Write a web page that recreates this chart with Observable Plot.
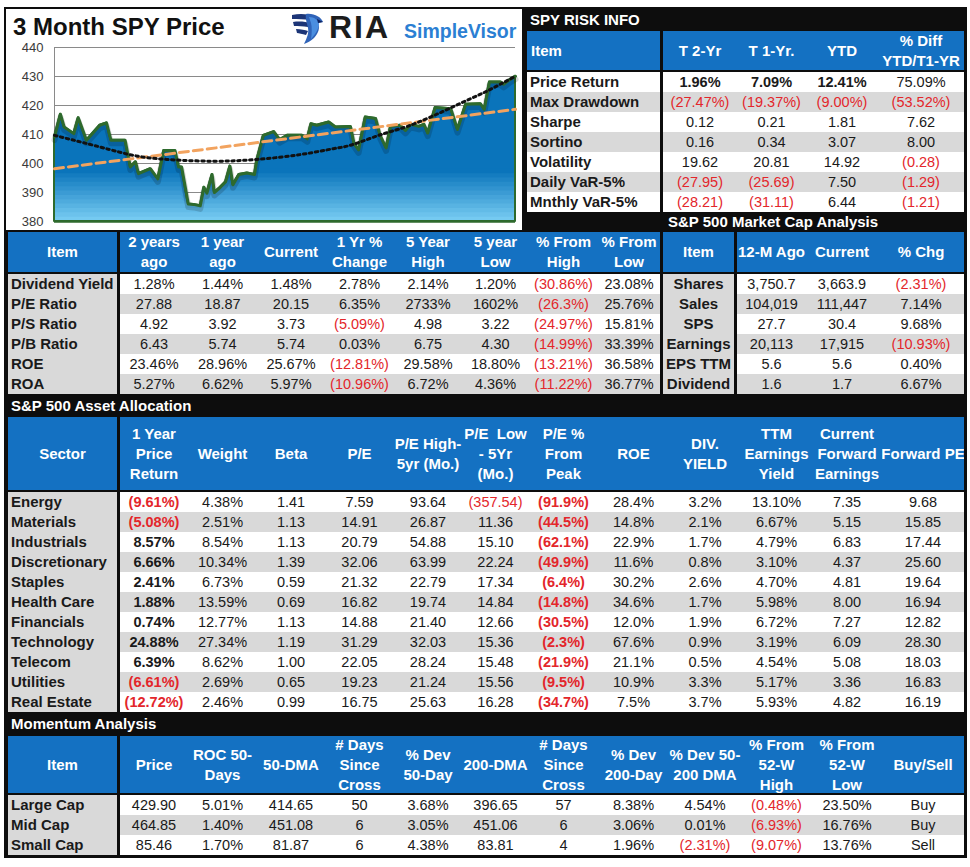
<!DOCTYPE html>
<html><head><meta charset="utf-8">
<script src="https://cdn.jsdelivr.net/npm/d3@7"></script>
<script src="https://cdn.jsdelivr.net/npm/@observablehq/plot@0.6"></script>
<style>
body{margin:0;background:#fff;font-family:"Liberation Sans",Arial,sans-serif;}
#root{position:relative;width:970px;height:867px;overflow:hidden;}
.c{position:absolute;display:flex;align-items:center;box-sizing:border-box;font-size:14.5px;color:#1a1a1a;white-space:pre;line-height:20px;text-align:center;overflow:hidden;}
</style></head><body><div id="root"></div>
<script>
// ---------- chart data ----------
const chartTitle = "3 Month SPY Price";
const yTicks = [380, 390, 400, 410, 420, 430, 440];
const chartDays = [0,0.8,1.3,2.6,3.2,4.3,6.1,7.0,7.6,9.5,10.2,10.9,11.3,12.9,13.9,14.7,16.2,16.7,17.1,18.0,18.7,19.6,20.1,20.5,21.2,21.5,22.3,23.0,23.6,24.0,24.8,25.9,26.9,27.2,28.1,29.5,30.3,31.3,33.3,34.0,34.5,35.3,36.9,37.8,39.8,40.3,40.9,41.8,43.2,43.8,44.6,45.2,46.5,47.2,47.9,49.0,49.7,50.2,51.2,53.3,54.2,55.3,57.3,57.8,58.5,60.0,60.4,61.1,62.0];
const chartPrice = [409.1,417.0,412.6,410.3,415.8,408.0,413.2,414.0,408.0,408.0,398.8,400.6,396.5,398.2,394.7,404.5,404.5,398.8,398.8,386.0,385.9,385.4,391.8,389.8,396.2,390.0,391.8,393.6,399.1,392.7,396.2,396.7,396.2,401.0,409.7,411.0,408.2,409.7,409.7,408.5,413.7,413.2,414.3,412.6,412.8,406.8,404.7,416.0,415.5,409.7,405.4,412.8,413.2,411.4,413.5,412.8,413.5,410.5,419.3,418.9,411.7,420.4,420.6,418.6,428.1,428.1,427.3,428.7,430.1];
const trendDays = [0, 62];
const trendPrice = [398.2, 418.7];
const polyDays = [0, 6.1, 10.6, 15.1, 21.4, 27.2, 33.1, 37.5, 40.2, 44.3, 48.8, 55.5, 58.2, 62];
const polyPrice = [409.7, 405.7, 402.8, 401.4, 400.8, 401.4, 403.1, 405.1, 406.6, 410.3, 414.1, 421.8, 425.0, 430.1];
const fillMain = "#0a74bb", fillLow = "#7fd2f6";

// ---------- SPY risk info ----------
const riskHeaders = ["Item", "T 2-Yr", "T 1-Yr.", "YTD", "% Diff\nYTD/T1-YR"];
const riskItems = ["Price Return","Max Drawdown","Sharpe","Sortino","Volatility","Daily VaR-5%","Mnthly VaR-5%"];
const riskT2 = ["1.96%","(27.47%)","0.12","0.16","19.62","(27.95)","(28.21)"];
const riskT1 = ["7.09%","(19.37%)","0.21","0.34","20.81","(25.69)","(31.11)"];
const riskYTD = ["12.41%","(9.00%)","1.81","3.07","14.92","7.50","6.44"];
const riskDiff = ["75.09%","(53.52%)","7.62","8.00","(0.28)","(1.29)","(1.21)"];

// ---------- valuation ----------
const valHeaders = ["Item","2 years\nago","1 year\nago","Current","1 Yr %\nChange","5 Year\nHigh","5 year\nLow","% From\nHigh","% From\nLow"];
const valItems = ["Dividend Yield","P/E Ratio","P/S Ratio","P/B Ratio","ROE","ROA"];
const val2y = ["1.28%","27.88","4.92","6.43","23.46%","5.27%"];
const val1y = ["1.44%","18.87","3.92","5.74","28.96%","6.62%"];
const valCur = ["1.48%","20.15","3.73","5.74","25.67%","5.97%"];
const val1yChg = ["2.78%","6.35%","(5.09%)","0.03%","(12.81%)","(10.96%)"];
const val5yHigh = ["2.14%","2733%","4.98","6.75","29.58%","6.72%"];
const val5yLow = ["1.20%","1602%","3.22","4.30","18.80%","4.36%"];
const valFromHigh = ["(30.86%)","(26.3%)","(24.97%)","(14.99%)","(13.21%)","(11.22%)"];
const valFromLow = ["23.08%","25.76%","15.81%","33.39%","36.58%","36.77%"];

// ---------- market cap ----------
const mcHeaders = ["Item","12-M Ago","Current","% Chg"];
const mcItems = ["Shares","Sales","SPS","Earnings","EPS TTM","Dividend"];
const mcAgo = ["3,750.7","104,019","27.7","20,113","5.6","1.6"];
const mcCur = ["3,663.9","111,447","30.4","17,915","5.6","1.7"];
const mcChg = ["(2.31%)","7.14%","9.68%","(10.93%)","0.40%","6.67%"];

// ---------- asset allocation ----------
const aaHeaders = ["Sector","1 Year\nPrice\nReturn","Weight","Beta","P/E","P/E High-\n5yr (Mo.)","P/E  Low\n- 5Yr\n(Mo.)","P/E %\nFrom\nPeak","ROE","DIV.\nYIELD","TTM\nEarnings\nYield","Current\nForward\nEarnings","Forward PE"];
const aaSectors = ["Energy","Materials","Industrials","Discretionary","Staples","Health Care","Financials","Technology","Telecom","Utilities","Real Estate"];
const aaReturn = ["(9.61%)","(5.08%)","8.57%","6.66%","2.41%","1.88%","0.74%","24.88%","6.39%","(6.61%)","(12.72%)"];
const aaWeight = ["4.38%","2.51%","8.54%","10.34%","6.73%","13.59%","12.77%","27.34%","8.62%","2.69%","2.46%"];
const aaBeta = ["1.41","1.13","1.13","1.39","0.59","0.69","1.13","1.19","1.00","0.65","0.99"];
const aaPE = ["7.59","14.91","20.79","32.06","21.32","16.82","14.88","31.29","22.05","19.23","16.75"];
const aaPEHigh = ["93.64","26.87","54.88","63.99","22.79","19.74","21.40","32.03","28.24","21.24","25.63"];
const aaPELow = ["(357.54)","11.36","15.10","22.24","17.34","14.84","12.66","15.36","15.48","15.56","16.28"];
const aaPEPeak = ["(91.9%)","(44.5%)","(62.1%)","(49.9%)","(6.4%)","(14.8%)","(30.5%)","(2.3%)","(21.9%)","(9.5%)","(34.7%)"];
const aaROE = ["28.4%","14.8%","22.9%","11.6%","30.2%","34.6%","12.0%","67.6%","21.1%","10.9%","7.5%"];
const aaDiv = ["3.2%","2.1%","1.7%","0.8%","2.6%","1.7%","1.9%","0.9%","0.5%","3.3%","3.7%"];
const aaTTM = ["13.10%","6.67%","4.79%","3.10%","4.70%","5.98%","6.72%","3.19%","4.54%","5.17%","5.93%"];
const aaFwdEarn = ["7.35","5.15","6.83","4.37","4.81","8.00","7.27","6.09","5.08","3.36","4.82"];
const aaFwdPE = ["9.68","15.85","17.44","25.60","19.64","16.94","12.82","28.30","18.03","16.83","16.19"];

// ---------- momentum ----------
const moHeaders = ["Item","Price","ROC 50-\nDays","50-DMA","# Days\nSince\nCross","% Dev\n50-Day","200-DMA","# Days\nSince\nCross","% Dev\n200-Day","% Dev 50-\n200 DMA","% From\n52-W\nHigh","% From\n52-W\nLow","Buy/Sell"];
const moItems = ["Large Cap","Mid Cap","Small Cap"];
const moPrice = ["429.90","464.85","85.46"];
const moROC = ["5.01%","1.40%","1.70%"];
const mo50 = ["414.65","451.08","81.87"];
const moDays50 = ["50","6","6"];
const moDev50 = ["3.68%","3.05%","4.38%"];
const mo200 = ["396.65","451.06","83.81"];
const moDays200 = ["57","6","4"];
const moDev200 = ["8.38%","3.06%","1.96%"];
const moDev50200 = ["4.54%","0.01%","(2.31%)"];
const moFromHigh = ["(0.48%)","(6.93%)","(9.07%)"];
const moFromLow = ["23.50%","16.76%","13.76%"];
const moSignal = ["Buy","Buy","Sell"];

// ---------- helpers ----------
const root = document.getElementById("root");
const BLUE = "#1471c2", GRAY = "#d9d9d9", RED = "#e3262b";
function div(x, y, w, h, bg) {
  const d = document.createElement("div");
  Object.assign(d.style, {position:"absolute", left:x+"px", top:y+"px", width:w+"px", height:h+"px", background:bg});
  root.appendChild(d); return d;
}
function cell(x0, x1, y0, y1, text, o = {}) {
  const d = document.createElement("div");
  d.className = "c";
  Object.assign(d.style, {
    left: x0 + "px", top: y0 + "px", width: (x1 - x0) + "px", height: (y1 - y0) + "px",
    background: o.bg || "transparent", color: o.color || "#1a1a1a",
    fontWeight: o.bold ? "bold" : "normal",
    justifyContent: o.align === "left" ? "flex-start" : "center",
    paddingLeft: o.align === "left" ? (o.pad ?? 3) + "px" : "0",
    fontSize: (o.size || 14.5) + "px"
  });
  d.textContent = text;
  root.appendChild(d);
  return d;
}
function table(t) {
  const {cols, hTop, hBot, bTop, rowH, headers, columns} = t;
  const n = columns[0].length;
  for (let j = 0; j < headers.length; j++) {
    const x0 = cols[j], x1 = j === 0 ? cols[1] - 3 : cols[j + 1];
    cell(x0, x1, hTop, hBot, headers[j], {bg: BLUE, color: "#fff", bold: true, size: 15,
      align: j === 0 ? t.headItemAlign : "center", pad: 4});
    for (let i = 0; i < n; i++) {
      const y0 = bTop + i * rowH, y1 = y0 + rowH;
      const v = columns[j][i];
      const stripe = i % 2 === 1 ? GRAY : "#fff";
      if (j === 0) {
        cell(x0, x1, y0, y1, v, {bg: t.itemStripe ? stripe : GRAY, bold: true, size: 15, align: t.itemAlign, pad: 3});
      } else {
        const neg = v.startsWith("(");
        cell(x0, x1, y0, y1, v, {bg: stripe, color: neg ? RED : "#1a1a1a", bold: t.bold ? t.bold(i, j) : false});
      }
    }
  }
}
function barTitle(x, y0, y1, text) {
  cell(x, x + 400, y0, y1, text, {color: "#fff", bold: true, size: 15, align: "left", pad: 0});
}

// black backdrop
div(4, 7, 963, 851, "#0d0d0d");

// ---------- chart panel ----------
const panel = div(6, 9, 516, 221, "#fff");
const series = chartDays.map((d, i) => ({d, p: chartPrice[i]}));
const trend = trendDays.map((d, i) => ({d, p: trendPrice[i]}));
const poly = polyDays.map((d, i) => ({d, p: polyPrice[i]}));
const GREEN = "#2e6a2d";
// lighter shading toward the bottom: nested solid areas under the main fill
const mix = d3.interpolateRgb(fillLow, fillMain);
const bandTops = d3.range(398, 380.5, -1.5);
const base380 = chartDays.map(() => 380);
const areaBands = bandTops.map(hi => Plot.areaY(series, {
  x: "d", y1: base380, y2: chartPrice.map(p => Math.min(p, hi)),
  fill: mix((hi - 380) / 18)
}));
const chart = Plot.plot({
  width: 516, height: 221,
  marginLeft: 48, marginRight: 7, marginTop: 38, marginBottom: 9,
  x: {domain: [0, 62], axis: null},
  y: {domain: [380, 440], ticks: yTicks, tickSize: 0, tickPadding: 11, label: null, tickFormat: d => String(d)},
  style: {fontSize: "13px", fontFamily: '"Liberation Sans", Arial, sans-serif', color: "#3a3a3a", background: "transparent", overflow: "visible"},
  marks: [
    Plot.ruleY(yTicks.slice(1), {stroke: "#8a8a8a", strokeWidth: 1}),
    Plot.ruleX([0], {stroke: "#8a8a8a", strokeWidth: 1}),
    Plot.areaY(series, {x: "d", y1: base380, y2: "p", fill: fillMain}),
    ...areaBands,
    Plot.areaY(series, {x: "d", y1: base380, y2: "p", fill: "none", stroke: GREEN, strokeWidth: 2}),
    Plot.line(series, {x: "d", y: "p", stroke: "#000", strokeOpacity: 0.16, strokeWidth: 6, dy: 3, strokeLinejoin: "round"}),
    Plot.line(series, {x: "d", y: "p", stroke: GREEN, strokeWidth: 3, strokeLinejoin: "round"}),
    Plot.line(trend, {x: "d", y: "p", stroke: "#f2a35f", strokeWidth: 3, strokeDasharray: "9,5"}),
    Plot.line(poly, {x: "d", y: "p", stroke: "#111", strokeWidth: 3, strokeDasharray: "2.5,3.5", curve: "natural"}),
    Plot.ruleY([380], {stroke: GREEN, strokeWidth: 2.5})
  ]
});
chart.style.position = "absolute"; chart.style.left = "0px"; chart.style.top = "0px";
panel.appendChild(chart);

// title & logo
const t = cell(13, 280, 12, 42, chartTitle, {bold: true, size: 24, align: "left", pad: 0, color: "#111"});
t.style.lineHeight = "30px";
const logo = document.createElementNS("http://www.w3.org/2000/svg", "svg");
logo.setAttribute("width", 34); logo.setAttribute("height", 34);
logo.style.position = "absolute"; logo.style.left = "290px"; logo.style.top = "11px";
logo.innerHTML = `
<path d="M2 4 C10 2 18 3 24 5 L20 9 C14 8 8 8 2 8 Z" fill="#1c3577"/>
<path d="M3 11 C10 10 16 11 21 12 L18 16 C13 15 8 15 4 15 Z" fill="#1c3577"/>
<path d="M6 18 C11 18 15 19 18 20 L16 24 C12 23 9 22 7 22 Z" fill="#1c3577"/>
<path d="M16 3 C24 2 31 6 33 11 L28 12 C30 16 29 22 24 27 C21 30 17 32 14 33 C17 27 19 22 18 17 C17 12 15 7 16 3 Z" fill="#2f63b8"/>
<path d="M19 6 C24 6 28 9 29 12 C29 17 26 23 21 28 C22 22 22 16 21 12 Z" fill="#4a8ee0"/>
<path d="M27 8 L33 11 L28 12 Z" fill="#0f2360"/>`;
root.appendChild(logo);
const ria = cell(329, 402, 10, 44, "RIA", {bold: true, size: 32, align: "left", pad: 0, color: "#1c1c1c"});
ria.style.letterSpacing = "2px"; ria.style.lineHeight = "34px";
const sv = cell(404, 522, 18, 44, "SimpleVisor", {bold: true, size: 19.5, align: "left", pad: 0, color: "#2b7fd3"});
sv.style.lineHeight = "24px";

// ---------- SPY risk info ----------
barTitle(530, 9, 30, "SPY RISK INFO");
table({cols: [527, 663, 737, 806, 878, 964], hTop: 31, hBot: 70, bTop: 72, rowH: 20,
  headers: riskHeaders, columns: [riskItems, riskT2, riskT1, riskYTD, riskDiff],
  itemAlign: "left", headItemAlign: "left", itemStripe: true,
  bold: (i, j) => i === 0 && j <= 3});

// ---------- market cap ----------
barTitle(668, 212, 232, "S&P 500 Market Cap Analysis");
table({cols: [663, 737, 806, 878, 964], hTop: 232, hBot: 272, bTop: 274, rowH: 20,
  headers: mcHeaders, columns: [mcItems, mcAgo, mcCur, mcChg], itemAlign: "center", headItemAlign: "center"});

// ---------- valuation ----------
table({cols: [8, 120, 188, 257, 325, 394, 462, 529, 598, 660], hTop: 232, hBot: 272, bTop: 274, rowH: 20,
  headers: valHeaders,
  columns: [valItems, val2y, val1y, valCur, val1yChg, val5yHigh, val5yLow, valFromHigh, valFromLow],
  itemAlign: "left", headItemAlign: "center"});

// ---------- asset allocation ----------
const A = [8, 120, 188, 257, 325, 394, 462, 529, 598, 669, 741, 812, 882, 964];
barTitle(11, 395, 416, "S&P 500 Asset Allocation");
table({cols: A, hTop: 417, hBot: 490, bTop: 492, rowH: 20, headers: aaHeaders,
  columns: [aaSectors, aaReturn, aaWeight, aaBeta, aaPE, aaPEHigh, aaPELow, aaPEPeak, aaROE, aaDiv, aaTTM, aaFwdEarn, aaFwdPE],
  itemAlign: "left", headItemAlign: "center", bold: (i, j) => j === 1 || j === 7});

// ---------- momentum ----------
barTitle(11, 713, 735, "Momentum Analysis");
table({cols: A, hTop: 736, hBot: 793, bTop: 795, rowH: 20, headers: moHeaders,
  columns: [moItems, moPrice, moROC, mo50, moDays50, moDev50, mo200, moDays200, moDev200, moDev50200, moFromHigh, moFromLow, moSignal],
  itemAlign: "left", headItemAlign: "center"});
</script></body></html>
